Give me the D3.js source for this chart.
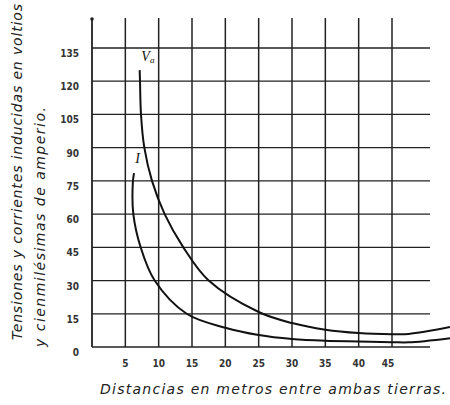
<!DOCTYPE html>
<html>
<head>
<meta charset="utf-8">
<script src="https://cdn.jsdelivr.net/npm/d3@7"></script>
<style>
  body { margin: 0; background: #fff; }
  svg { display: block; }
</style>
</head>
<body>
<div class="canva"></div>
<script>
const width = 450
const height = 405

// data
const xTicks = [5, 10, 15, 20, 25, 30, 35, 40, 45]
const yTicks = [0, 15, 30, 45, 60, 75, 90, 105, 120, 135]
const tensionV = [
  [7.15, 125], [7.2, 120], [7.35, 105], [7.85, 90], [9.0, 75], [10.9, 60],
  [13.7, 45], [17.5, 30], [25, 15.8], [30, 10.8],
  [35, 7.8], [40, 6.3], [45, 5.8], [47.5, 5.9], [53.7, 9]
]
const corrienteI = [
  [6.3, 78.5], [6.12, 74], [6.2, 60], [7.3, 45], [9.4, 30],
  [14.2, 15], [20, 8.7], [25, 5.4], [30, 3.6], [35, 2.8], [40, 2.5],
  [45, 2.2], [47.5, 2.1], [53.7, 4]
]

const x = d3.scaleLinear().domain([0, 45]).range([92, 392])
const y = d3.scaleLinear().domain([0, 135]).range([347, 48])
const gridRight = 430
const gridTop = 18

const svg = d3.select(".canva").append("svg").attr("width", width).attr("height", height)

//grid
const grid = svg.append("g").attr("stroke", "#222")
grid.selectAll("line.h")
  .data(yTicks)
  .enter()
  .append("line")
  .attr("class", "h")
  .attr("x1", x(0))
  .attr("x2", gridRight)
  .attr("y1", d => y(d))
  .attr("y2", d => y(d))
  .attr("stroke-width", d => d === 0 ? 1.6 : 1.3)
grid.selectAll("line.v")
  .data([0].concat(xTicks))
  .enter()
  .append("line")
  .attr("class", "v")
  .attr("x1", d => x(d))
  .attr("x2", d => x(d))
  .attr("y1", gridTop)
  .attr("y2", y(0))
  .attr("stroke-width", d => d === 0 ? 1.8 : 1.5)
svg.append("circle").attr("cx", x(0)).attr("cy", gridTop + 1).attr("r", 1.8).attr("fill", "#222")

//tick labels
const tickFont = "'DejaVu Sans Condensed', 'DejaVu Sans', sans-serif"
svg.append("g")
  .selectAll("text")
  .data(yTicks)
  .enter()
  .append("text")
  .attr("x", 79)
  .attr("y", d => y(d) + 9)
  .attr("text-anchor", "end")
  .attr("font-family", tickFont)
  .attr("font-weight", "bold")
  .attr("font-size", 10)
  .attr("fill", "#333")
  .text(d => d)
svg.append("g")
  .selectAll("text")
  .data(xTicks)
  .enter()
  .append("text")
  .attr("x", d => x(d) - (d === 45 ? 4 : 0))
  .attr("y", 367)
  .attr("text-anchor", "middle")
  .attr("font-family", tickFont)
  .attr("font-weight", "bold")
  .attr("font-size", 10)
  .attr("fill", "#333")
  .text(d => d)

//curves
const line = d3.line()
  .x(d => x(d[0]))
  .y(d => y(d[1]))
  .curve(d3.curveCatmullRom.alpha(0.5))
svg.append("path").datum(tensionV).attr("d", line)
  .attr("fill", "none").attr("stroke", "#111").attr("stroke-width", 2)
svg.append("path").datum(corrienteI).attr("d", line)
  .attr("fill", "none").attr("stroke", "#111").attr("stroke-width", 2)

//curve labels
const vLabel = svg.append("text")
  .attr("x", x(7.4))
  .attr("y", y(129))
  .attr("font-family", "'Liberation Serif', serif")
  .attr("font-style", "italic")
  .attr("font-size", 14)
  .attr("fill", "#111")
vLabel.append("tspan").text("V")
vLabel.append("tspan").attr("font-size", 9).attr("dy", 2).text("a")
svg.append("text")
  .attr("x", x(6.5))
  .attr("y", y(83))
  .attr("font-family", "'Liberation Serif', serif")
  .attr("font-style", "italic")
  .attr("font-size", 14)
  .attr("fill", "#111")
  .text("I")

//axis titles
const titleFont = "'DejaVu Sans', sans-serif"
svg.append("text")
  .attr("x", 100)
  .attr("y", 394)
  .attr("font-family", titleFont)
  .attr("font-style", "italic")
  .attr("font-size", 14)
  .attr("fill", "#222")
  .attr("textLength", 346)
  .attr("lengthAdjust", "spacing")
  .text("Distancias en metros entre ambas tierras.")
svg.append("text")
  .attr("transform", "translate(22,340) rotate(-90)")
  .attr("font-family", titleFont)
  .attr("font-style", "italic")
  .attr("font-size", 14)
  .attr("fill", "#222")
  .attr("textLength", 336)
  .attr("lengthAdjust", "spacing")
  .text("Tensiones y corrientes inducidas en voltios")
svg.append("text")
  .attr("transform", "translate(45,347) rotate(-90)")
  .attr("font-family", titleFont)
  .attr("font-style", "italic")
  .attr("font-size", 14)
  .attr("fill", "#222")
  .attr("textLength", 240)
  .attr("lengthAdjust", "spacing")
  .text("y cienmilésimas de amperio.")
</script>
</body>
</html>
